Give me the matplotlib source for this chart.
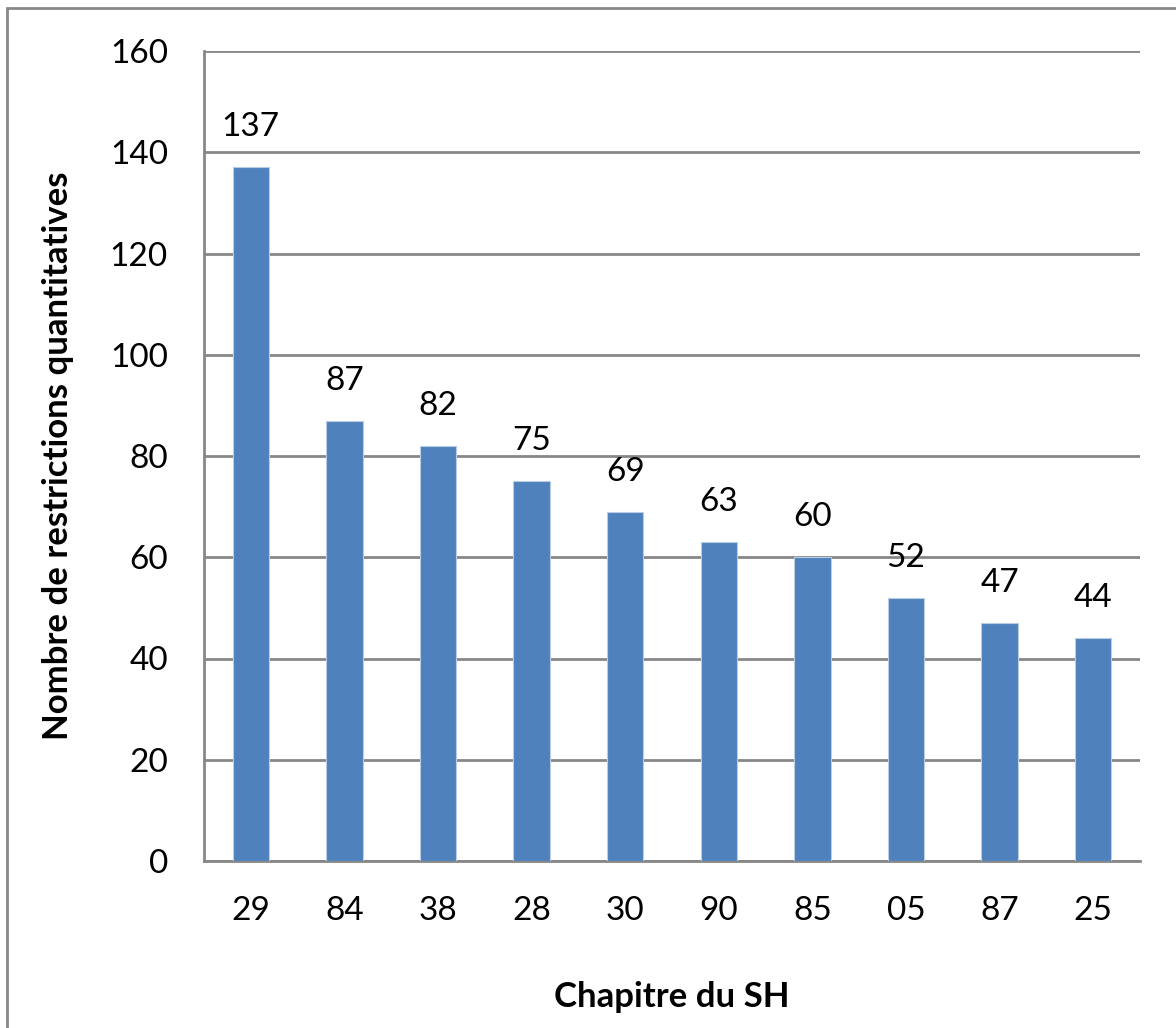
import matplotlib
matplotlib.use("Agg")
import matplotlib.pyplot as plt
from matplotlib.patches import Rectangle

chapters = ["29", "84", "38", "28", "30", "90", "85", "05", "87", "25"]
counts = [137, 87, 82, 75, 69, 63, 60, 52, 47, 44]
y_ticks = [0, 20, 40, 60, 80, 100, 120, 140, 160]

plt.rcParams['font.family'] = ['Lato', 'DejaVu Sans']

W, H = 1176, 1028
fig = plt.figure(figsize=(W / 100, H / 100), dpi=100)
ax = fig.add_axes([204 / W, 1 - 861 / H, (1140 - 204) / W, (861 - 51) / H])

grid_col = "#878787"
bar_col = "#4F81BD"

x = range(len(chapters))
ax.bar(x, counts, width=0.39, color=bar_col, edgecolor="#B9CDE5", linewidth=0.8, zorder=3)

for xi, v in zip(x, counts):
    ax.annotate(str(v), (xi, v), xytext=(0, 18), textcoords="offset points",
                ha="center", va="bottom", fontsize=24, color="black")

ax.set_xlim(-0.5, len(chapters) - 0.5)
ax.set_ylim(0, 160)
ax.set_yticks(y_ticks)
ax.set_xticks(list(x))
ax.set_xticklabels(chapters)
ax.tick_params(axis="both", length=0, labelsize=24, colors="black")
ax.tick_params(axis="x", pad=25)
ax.tick_params(axis="y", pad=26)

ax.yaxis.grid(True, color=grid_col, linewidth=2, zorder=0)
ax.set_axisbelow(True)
for s in ["top", "right"]:
    ax.spines[s].set_visible(False)
for s in ["left", "bottom"]:
    ax.spines[s].set_color(grid_col)
    ax.spines[s].set_linewidth(2)

ax.set_xlabel("Chapitre du SH", fontsize=25, fontweight="bold", labelpad=40)
ax.set_ylabel("Nombre de restrictions quantitatives", fontsize=25, fontweight="bold", labelpad=26)

# outer chart frame
fig.patches.append(Rectangle((7 / W, -0.1), 1.2, 1 - 8 / H + 0.1, transform=fig.transFigure,
                             fill=False, edgecolor="#888888", linewidth=2))

fig.savefig("out.png", dpi=100)
